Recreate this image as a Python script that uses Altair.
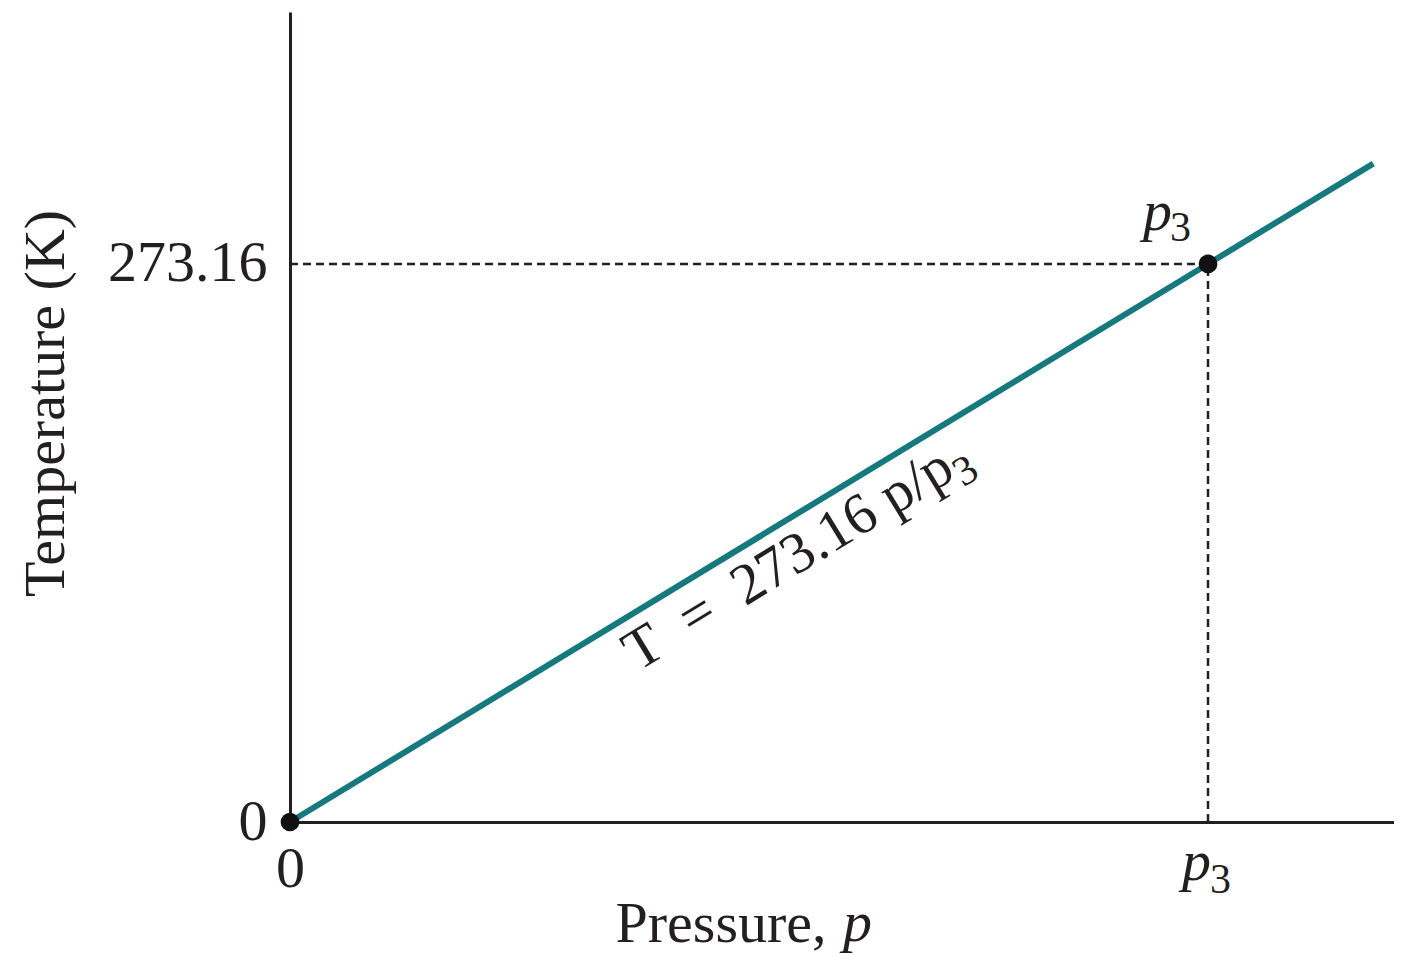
import altair as alt
import pandas as pd

# ---- data (pressure in units of p3) ----
p_line = [0.0, 1.0, 1.18]
T_line = [0.0, 273.16, 322.3]
p_points = [0.0, 1.0]
T_points = [0.0, 273.16]
y_tick_values = [0, 273.16]
x_tick_values = [0]
P_MAX = 1.2026
T_MAX = 396.5

FONT = "Liberation Serif"
INK = "#231f20"
TEAL = "#16797d"

line_df = pd.DataFrame({"p": p_line, "T": T_line})
pts_df = pd.DataFrame({"p": p_points, "T": T_points})
hrule_df = pd.DataFrame({"p": [p_points[0]], "p2": [p_points[1]], "T": [T_points[1]]})
vrule_df = pd.DataFrame({"p": [p_points[1]], "T": [T_points[0]], "T2": [T_points[1]]})
p3_df = pd.DataFrame({"p": [p_points[1]], "T": [T_points[1]]})
p3_axis_df = pd.DataFrame({"p": [p_points[1]], "T": [0.0]})
eq_df = pd.DataFrame({"p": [0.525], "T": [143.3]})

x_scale = alt.Scale(domain=[0, P_MAX], nice=False, zero=False)
y_scale = alt.Scale(domain=[0, T_MAX], nice=False, zero=False)

x_axis = alt.Axis(
    values=x_tick_values, format="d", grid=False, ticks=False,
    domainColor=INK, domainWidth=3,
    labelFont=FONT, labelFontSize=58, labelColor=INK, labelFlush=False,
    labelPadding=18, labelBaseline="top", labelAngle=0,
    title="Pressure,", titleFont=FONT, titleFontSize=58, titleFontWeight="normal",
    titleColor=INK, titleX=325, titleY=119, titleAlign="left", titleBaseline="alphabetic",
)
y_axis = alt.Axis(
    values=y_tick_values, format=".2~f", grid=False, ticks=False,
    domainColor=INK, domainWidth=3,
    labelFont=FONT, labelFontSize=58, labelColor=INK, labelFlush=False,
    labelPadding=23, labelBaseline="middle", labelOverlap=False,
    title="Temperature (K)", titleFont=FONT, titleFontSize=58, titleFontWeight="normal",
    titleColor=INK, titleAngle=270, titleX=-227, titleY=391, titleAlign="center",
    titleBaseline="alphabetic",
)

X = lambda f="p": alt.X(f"{f}:Q", scale=x_scale, axis=x_axis)
Y = lambda f="T": alt.Y(f"{f}:Q", scale=y_scale, axis=y_axis)

line = alt.Chart(line_df).mark_line(color=TEAL, strokeWidth=6).encode(x=X(), y=Y())

hrule = alt.Chart(hrule_df).mark_rule(color=INK, strokeWidth=2.5, strokeDash=[8, 5]).encode(
    x=X(), x2="p2:Q", y=Y()
)
vrule = alt.Chart(vrule_df).mark_rule(color=INK, strokeWidth=2.5, strokeDash=[8, 5]).encode(
    x=X(), y=Y(), y2="T2:Q"
)

points = alt.Chart(pts_df).mark_circle(size=350, color="#111111", opacity=1).encode(
    x=X(), y=Y()
)

def txt(df, text, dx, dy, size, style="normal", align="left", angle=0, baseline="alphabetic"):
    kw = dict(text=text, dx=dx, dy=dy, font=FONT, fontSize=size, fontStyle=style,
              color=INK, align=align, baseline=baseline)
    if angle:
        kw["angle"] = angle
    return alt.Chart(df).mark_text(**kw).encode(x=X(), y=Y())

p3_top_p = txt(p3_df, "p", -65, -34, 58, "italic")
p3_top_3 = txt(p3_df, "3", -38, -23, 42)
p3_bot_p = txt(p3_axis_df, "p", -26, 58, 58, "italic")
p3_bot_3 = txt(p3_axis_df, "3", 2, 71, 42)

ANGLE = 328.6
eq_main = txt(eq_df, "T\u2002=\u2002273.16 p/p", -189, 52, 58, align="left", angle=ANGLE)
eq_sub = txt(eq_df, "3", 185, 64, 42, align="left", angle=ANGLE)

title_p = alt.Chart(pts_df.head(1)).mark_text(
    text="p", font=FONT, fontSize=58, fontStyle="italic", color=INK,
    align="left", baseline="alphabetic"
).encode(x=alt.value(553), y=alt.value(929))

chart = alt.layer(
    hrule, vrule, line, points, p3_top_p, p3_top_3, p3_bot_p, p3_bot_3,
    eq_main, eq_sub, title_p
).properties(
    width=1104, height=810,
    padding={"left": 282, "top": 4, "right": 0, "bottom": 133},
    autosize="none", background="white",
).configure_view(stroke=None)

chart.save("out.html", embed_options={"renderer": "svg", "actions": False})
